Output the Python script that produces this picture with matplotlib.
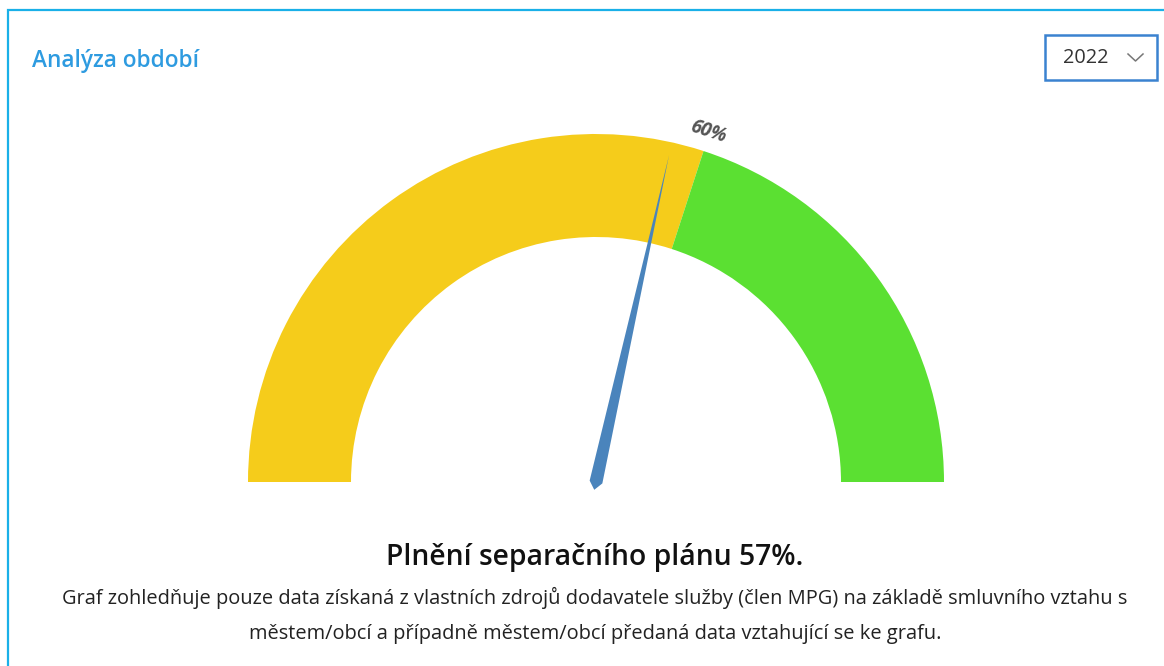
import numpy as np
import matplotlib.pyplot as plt
from matplotlib.patches import Wedge, Polygon, Rectangle

# --- data ---
value = 57          # needle
threshold = 60      # yellow / green split
max_value = 100
band_colors = ['#F5CC1B', '#5BE032']
year = '2022'
title = 'Analýza období'
headline = f'Plnění separačního plánu {value}%.'
note_lines = [
    'Graf zohledňuje pouze data získaná z vlastních zdrojů dodavatele služby (člen MPG) na základě smluvního vztahu s',
    'městem/obcí a případně městem/obcí předaná data vztahující se ke grafu.',
]

W, H = 1164, 666
plt.rcParams['font.family'] = ['Open Sans', 'DejaVu Sans']

fig = plt.figure(figsize=(W / 100, H / 100), dpi=100)
ax = fig.add_axes([0, 0, 1, 1])
ax.set_xlim(0, W)
ax.set_ylim(0, H)
ax.set_aspect('equal')
ax.axis('off')

def py(y):
    # pixel row from top -> axes y
    return H - y

# panel border (left + top)
ax.plot([8, 8, W + 5], [py(H + 5), py(10), py(10)], color='#1AB0E8', lw=1.6,
        solid_joinstyle='miter')

ax.text(32, py(61), title, color='#2E9BE0', fontsize=16.3, fontweight='semibold',
        va='center', ha='left')

# year dropdown
ax.add_patch(Rectangle((1045, py(80)), 112, 45, fill=False, edgecolor='#3B82D0', lw=1.8))
ax.text(1085.5, py(58), year, fontsize=14.3, color='#333333', va='center', ha='center')
ax.plot([1128, 1135.5, 1143], [py(54), py(61), py(54)], color='#777777', lw=1.1)

# gauge
cx, cy = 596, py(482)
R, width = 348, 103
split_ang = 180 - threshold / max_value * 180
ax.add_patch(Wedge((cx, cy), R, split_ang, 180, width=width, color=band_colors[0], lw=0))
ax.add_patch(Wedge((cx, cy), R, 0, split_ang, width=width, color=band_colors[1], lw=0))

# threshold label
lab_r = R + 20
a = np.radians(split_ang)
ax.text(cx + lab_r * np.cos(a) - 2, cy + lab_r * np.sin(a), f'{threshold}%',
        rotation=split_ang - 90, rotation_mode='anchor', ha='center', va='center',
        fontsize=13.5, fontweight='bold', fontstyle='italic', color='#555555')

# needle
na = np.radians(180 - value / max_value * 180)
d = np.array([np.cos(na), np.sin(na)])
n = np.array([-d[1], d[0]])
tip = np.array([cx, cy]) + d * 335
base = np.array([cx, cy])
needle = Polygon([tip, base + n * 6.5, base - d * 8, base - n * 6.5],
                 closed=True, color='#4A84BC', lw=0)
ax.add_patch(needle)

# captions
ax.text(595, py(557), headline, fontsize=20.3, fontweight='semibold',
        color='#111111', ha='center', va='center')
ax.text(595, py(598), note_lines[0], fontsize=14.4, color='#222222',
        ha='center', va='center')
ax.text(595, py(634), note_lines[1], fontsize=14.4, color='#222222',
        ha='center', va='center')

fig.savefig('out.png', dpi=100, facecolor='white')
